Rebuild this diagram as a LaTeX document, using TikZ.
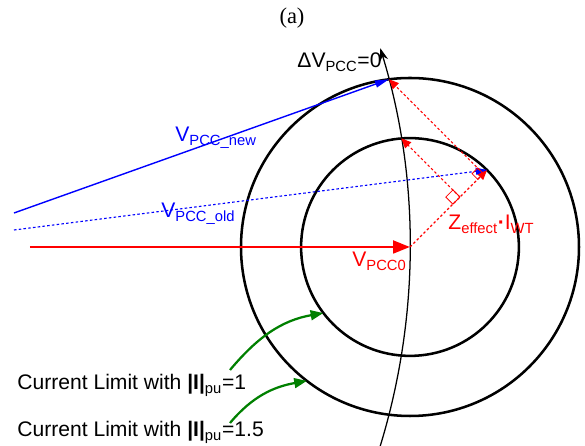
\documentclass[tikz,border=0pt]{standalone}
\usepackage{fontspec}
\setmainfont{Liberation Sans}
\newfontfamily\capfont{Liberation Serif}
\usepackage{tikz}
\usetikzlibrary{calc, arrows.meta}
\usepackage{tkz-euclide}

\begin{document}
\begin{tikzpicture}[
        lbl/.style={font=\fontsize{15}{18}\selectfont, inner sep=0pt, anchor=base west},
        limit/.style={black, line width=1.8pt},
        zeroline/.style={black, line width=0.9pt, -{Stealth[length=9pt,width=6pt]}},
        phasor/.style={line width=1pt, -{Triangle[length=10pt,width=5pt]}},
        dots/.style={line width=0.8pt, dash pattern=on 1.8pt off 1.6pt},
        proj/.style={red, dots, -{Triangle[length=7pt,width=6pt]}},
        hint/.style={green!50!black, line width=1.6pt, -{Triangle[length=9pt,width=7pt]}}]
            \useasboundingbox (-10.25,-4.975) rectangle (4.375,6.175);
            \tkzDefPoints{0/0/O,-17/0/C,-9.5/0/S,-9.9/0.85/N,-9.9/0.425/D,-4.5/-3.075/L,-4.5/-4.4/K}
            \tkzDefPoint(97.14:4.225){A}
            \tkzDefPoint(94.6:2.725){B}
            \tkzDefPoint(45:2.725){T}
            \tkzDefPoint(217.3:2.725){G}
            \tkzDefPoint(232.4:4.225){H}
            \tkzDefPointBy[projection=onto O--T](A) \tkzGetPoint{F}
            \tkzDefPointBy[projection=onto O--T](B) \tkzGetPoint{E}
            \coordinate (Z) at ($(C)+(-18:17)$);
            \tkzDrawCircle[limit](O,T)
            \tkzDrawCircle[limit](O,A)
            \draw[zeroline] (Z) arc[start angle=-18, end angle=17, radius=17];
            \draw[red, line width=2pt, -{Triangle[length=12pt,width=9pt]}] (S) -- (O);
            \draw[phasor, blue] (N) -- (A);
            \draw[proj] (O) -- (T);
            \draw[phasor, blue, dots, -{Triangle[length=8pt,width=5pt]}] (D) -- (T);
            \draw[proj] (F) -- (A);
            \draw[proj] (E) -- (B);
            \tkzMarkRightAngle[size=.2,color=red,line width=.6pt](O,F,A)
            \tkzMarkRightAngle[size=.25,color=red,line width=.6pt](O,E,B)
            \draw[hint] (L) to[out=50,in=190] (G);
            \draw[hint] (K) to[out=50,in=190] (H);
            \node[font=\capfont\fontsize{16}{18}\selectfont] (cap) at (-2.95,5.72) {(a)};
            \node[lbl] (zero) at (-2.825,4.475) {ΔV\textsubscript{PCC}=0};
            \node[lbl, blue] (vnew) at (-5.875,2.625) {V\textsubscript{PCC\_new}};
            \node[lbl, blue] (vold) at (-6.225,0.725) {V\textsubscript{PCC\_old}};
            \node[lbl, red] (vzero) at (-1.45,-0.5) {V\textsubscript{PCC0}};
            \node[lbl, red] (zi) at (0.95,0.425) {Z\textsubscript{effect}\textbf{·}I\textsubscript{WT}};
            \node[lbl] (lim1) at (-9.825,-3.575) {Current Limit with \textbf{|I|}\textsubscript{pu}=1};
            \node[lbl] (lim2) at (-9.825,-4.75) {Current Limit with \textbf{|I|}\textsubscript{pu}=1.5};
        \end{tikzpicture}
\end{document}
